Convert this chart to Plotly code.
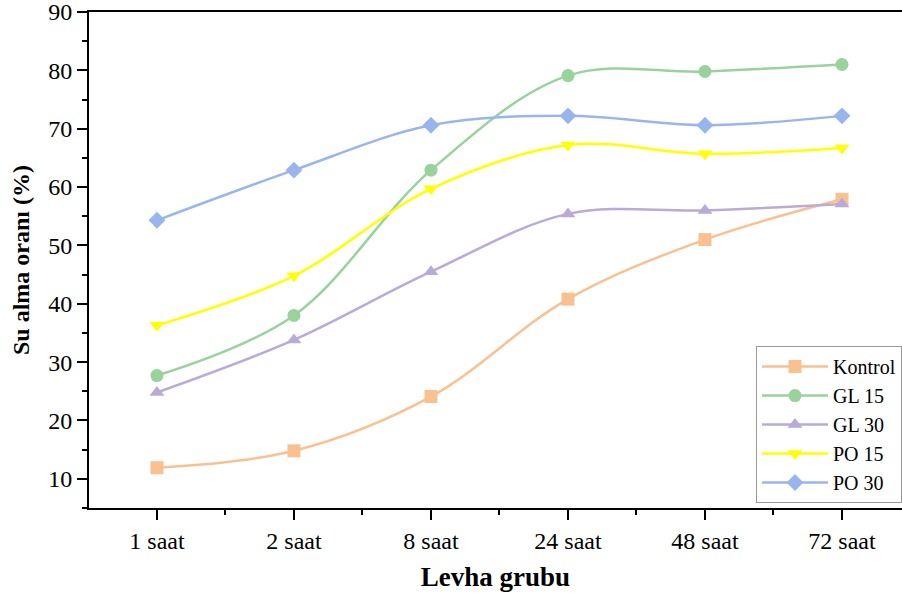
import plotly.graph_objects as go

categories = ["1 saat", "2 saat", "8 saat", "24 saat", "48 saat", "72 saat"]
kontrol = [11.9, 14.8, 24.1, 40.8, 51.0, 57.9]
gl15 = [27.7, 38.0, 62.9, 79.1, 79.8, 81.0]
gl30 = [24.8, 33.8, 45.5, 55.4, 56.0, 57.1]
po15 = [36.3, 44.8, 59.7, 67.2, 65.7, 66.7]
po30 = [54.3, 62.9, 70.6, 72.2, 70.6, 72.2]

series = [
    ("Kontrol", kontrol, "#F9C18F", "square"),
    ("GL 15", gl15, "#9AD29C", "circle"),
    ("GL 30", gl30, "#B9ABD6", "triangle-up"),
    ("PO 15", po15, "#FFFF00", "triangle-down"),
    ("PO 30", po30, "#98B5EE", "diamond"),
]

xs = list(range(len(categories)))
fig = go.Figure()
for name, vals, color, sym in series:
    fig.add_trace(go.Scatter(
        x=xs, y=vals, name=name, mode="lines+markers",
        line=dict(color=color, width=2.5, shape="spline", smoothing=1.0),
        marker=dict(symbol=sym, size=13, color=color),
    ))

font_family = "Liberation Serif, Times New Roman, serif"
fig.update_layout(
    width=902, height=596,
    margin=dict(l=89, r=0, t=12, b=88),
    plot_bgcolor="white", paper_bgcolor="white",
    font=dict(family=font_family, size=24, color="black"),
    showlegend=True,
    legend=dict(
        x=1.0, y=0.01, xanchor="right", yanchor="bottom",
        bordercolor="#999999", borderwidth=1, bgcolor="white",
        font=dict(family=font_family, size=20, color="black"),
        tracegroupgap=0, itemwidth=66,
    ),
    xaxis=dict(
        range=[-0.496, 5.438],
        tickmode="array", tickvals=xs, ticktext=categories,
        showline=True, linecolor="black", linewidth=2, mirror=True,
        ticks="outside", ticklen=10, tickwidth=2, tickcolor="black",
        minor=dict(tickvals=[0.5, 1.5, 2.5, 3.5, 4.5], ticks="outside", ticklen=5, tickwidth=2, tickcolor="black"),
        showgrid=False, zeroline=False,
        title=dict(text="<b>Levha grubu</b>", font=dict(family=font_family, size=27), standoff=14),
        tickfont=dict(family=font_family, size=24),
    ),
    yaxis=dict(
        range=[5, 90],
        tickmode="array", tickvals=[10, 20, 30, 40, 50, 60, 70, 80, 90],
        ticklabeloverflow="allow",
        showline=True, linecolor="black", linewidth=2,
        ticks="outside", ticklen=10, tickwidth=2, tickcolor="black",
        minor=dict(tickvals=[5, 15, 25, 35, 45, 55, 65, 75, 85], ticks="outside", ticklen=5, tickwidth=2, tickcolor="black"),
        showgrid=False, zeroline=False,
        title=dict(text="<b>Su alma oranı (%)</b>", font=dict(family=font_family, size=24), standoff=12),
        tickfont=dict(family=font_family, size=24),
    ),
)

fig.write_html("out.html")
